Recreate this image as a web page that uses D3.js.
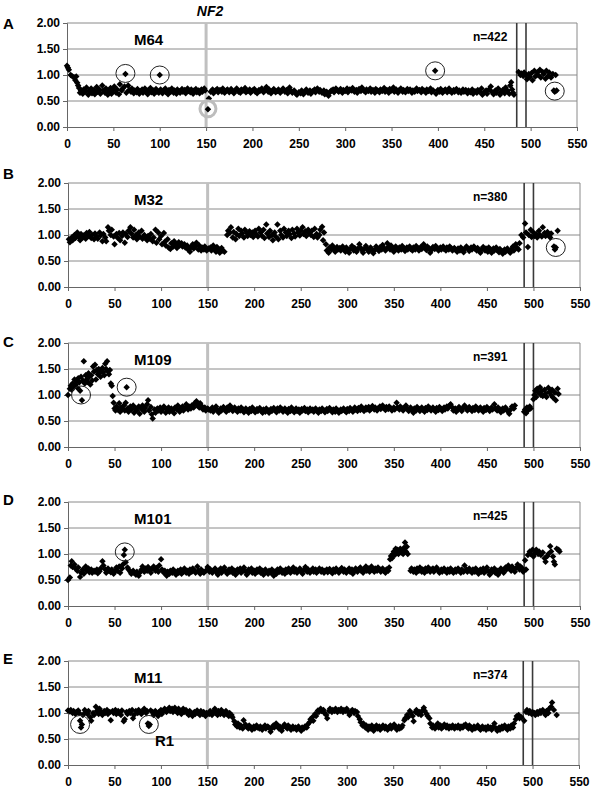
<!DOCTYPE html>
<html>
<head>
<meta charset="utf-8">
<script src="https://cdn.jsdelivr.net/npm/d3@7"></script>
<style>
  body { margin: 0; background: #fff; }
  svg { display: block; font-family: "Liberation Sans", Arial, sans-serif; }
</style>
</head>
<body>
<div class="canva"></div>
<script>
// panel ids, sample names and clone counts
const panelIds = ["A", "B", "C", "D", "E"];
const sampleNames = ["M64", "M32", "M109", "M101", "M11"];
const cloneCounts = [422, 380, 391, 425, 374];

const xTicks = [0, 50, 100, 150, 200, 250, 300, 350, 400, 450, 500, 550];
const yTicks = [0, 0.5, 1, 1.5, 2];

// NF2 position and the two dark boundary lines per panel
const nf2Pos = 150;
const gapLines = [[485, 495], [490, 500], [490, 500], [490, 500], [490, 500]];

// ratio values [position, ratio] per tumour
const m64 = [[0,1.18],[1,1.14],[2,1.10],[4,1.00],[6,0.97],[8,0.95],[9,0.90],[10,0.97],[11,0.85],[12,0.80],[13,0.75],[14,0.66],[15,0.70],[17,0.64],[18,0.72],[20,0.68],[21,0.76],[23,0.62],[24,0.70],[26,0.74],[27,0.65],[29,0.71],[30,0.63],[32,0.77],[33,0.68],[35,0.72],[36,0.64],[38,0.80],[39,0.70],[41,0.66],[42,0.74],[44,0.62],[45,0.69],[47,0.75],[48,0.64],[50,0.71],[51,0.78],[53,0.66],[54,0.72],[56,0.63],[57,0.82],[59,0.70],[60,0.74],[62,0.78],[63,1.02],[64,0.66],[66,0.80],[67,0.71],[69,0.68],[70,0.74],[72,0.65],[73,0.70],[75,0.67],[76,0.73],[78,0.64],[79,0.69],[81,0.72],[82,0.66],[84,0.74],[85,0.68],[87,0.63],[88,0.71],[90,0.75],[91,0.67],[93,0.70],[94,0.64],[96,0.73],[97,0.68],[99,0.66],[100,1.00],[101,0.72],[103,0.65],[104,0.70],[106,0.74],[107,0.67],[109,0.63],[110,0.71],[112,0.68],[113,0.74],[115,0.66],[116,0.70],[118,0.64],[119,0.72],[121,0.69],[122,0.66],[124,0.73],[125,0.68],[127,0.71],[128,0.65],[130,0.74],[131,0.69],[133,0.67],[134,0.72],[136,0.64],[137,0.70],[139,0.73],[140,0.67],[142,0.70],[143,0.65],[145,0.72],[146,0.68],[148,0.74],[149,0.70],[152,0.34],[153,0.55],[155,0.68],[157,0.72],[158,0.65],[160,0.70],[162,0.73],[163,0.67],[165,0.71],[167,0.68],[168,0.74],[170,0.66],[172,0.70],[173,0.72],[175,0.67],[177,0.73],[178,0.69],[180,0.65],[182,0.71],[183,0.74],[185,0.68],[187,0.66],[188,0.72],[190,0.70],[192,0.75],[193,0.67],[195,0.69],[197,0.72],[198,0.66],[200,0.70],[202,0.73],[203,0.68],[205,0.65],[207,0.71],[208,0.69],[210,0.74],[212,0.67],[213,0.70],[215,0.77],[217,0.68],[218,0.72],[220,0.65],[222,0.70],[223,0.73],[225,0.67],[227,0.69],[228,0.72],[230,0.66],[232,0.70],[233,0.74],[235,0.68],[237,0.71],[238,0.65],[240,0.76],[242,0.69],[243,0.66],[245,0.70],[247,0.64],[248,0.62],[250,0.67],[252,0.65],[253,0.70],[255,0.63],[257,0.68],[258,0.72],[260,0.66],[262,0.70],[263,0.64],[265,0.69],[267,0.72],[268,0.67],[270,0.74],[272,0.68],[273,0.71],[275,0.66],[277,0.70],[278,0.63],[280,0.68],[282,0.60],[283,0.66],[285,0.70],[287,0.72],[288,0.67],[290,0.74],[292,0.70],[293,0.68],[295,0.73],[297,0.66],[298,0.71],[300,0.69],[302,0.74],[303,0.67],[305,0.72],[307,0.70],[308,0.75],[310,0.68],[312,0.71],[313,0.66],[315,0.73],[317,0.69],[318,0.76],[320,0.70],[322,0.67],[323,0.72],[325,0.69],[327,0.74],[328,0.68],[330,0.71],[332,0.66],[333,0.73],[335,0.70],[337,0.67],[338,0.72],[340,0.69],[342,0.75],[343,0.68],[345,0.71],[347,0.66],[348,0.73],[350,0.70],[352,0.76],[353,0.68],[355,0.72],[357,0.66],[358,0.70],[360,0.74],[362,0.68],[363,0.71],[365,0.67],[367,0.73],[368,0.69],[370,0.72],[372,0.66],[373,0.70],[375,0.68],[377,0.74],[378,0.69],[380,0.71],[382,0.67],[383,0.73],[385,0.70],[387,0.66],[388,0.72],[390,0.69],[392,0.74],[393,0.67],[395,0.70],[397,1.08],[398,0.64],[400,0.71],[402,0.68],[403,0.73],[405,0.66],[407,0.70],[408,0.72],[410,0.67],[412,0.74],[413,0.69],[415,0.66],[417,0.71],[418,0.68],[420,0.73],[422,0.67],[423,0.70],[425,0.66],[427,0.72],[428,0.68],[430,0.71],[432,0.65],[433,0.70],[435,0.67],[437,0.72],[438,0.64],[440,0.69],[442,0.66],[443,0.71],[445,0.68],[447,0.74],[448,0.62],[450,0.67],[452,0.70],[453,0.64],[455,0.72],[457,0.78],[458,0.68],[460,0.63],[462,0.70],[463,0.66],[465,0.74],[467,0.62],[468,0.68],[470,0.71],[472,0.65],[473,0.76],[475,0.70],[477,0.64],[478,0.80],[479,0.86],[480,0.72],[481,0.66],[482,0.62],[487,1.06],[489,1.00],[490,1.03],[492,0.98],[493,1.05],[495,1.00],[496,0.92],[498,1.02],[499,0.96],[501,1.04],[502,0.90],[504,1.08],[505,0.97],[507,1.05],[508,1.00],[510,1.10],[511,0.95],[513,1.06],[514,1.02],[516,0.93],[517,1.08],[519,0.98],[520,1.05],[522,0.95],[524,1.02],[525,0.70],[526,0.68],[527,1.00],[528,0.70]];

const m32 = [[1,0.92],[2,0.86],[4,0.95],[5,0.90],[7,1.00],[8,0.94],[10,1.05],[11,0.97],[13,0.90],[14,1.02],[16,0.95],[17,0.99],[19,0.93],[20,1.04],[22,0.98],[23,1.06],[25,0.94],[26,1.00],[28,0.92],[29,1.03],[31,0.97],[32,0.93],[34,1.05],[35,0.99],[37,0.88],[38,1.02],[40,0.95],[41,0.88],[43,1.15],[44,1.08],[46,1.00],[47,1.10],[49,0.97],[50,0.82],[52,1.02],[53,0.95],[55,1.04],[56,0.90],[58,0.98],[59,1.05],[61,0.85],[62,1.02],[64,0.96],[65,1.08],[67,1.15],[68,1.03],[70,0.95],[71,1.10],[73,1.00],[74,0.92],[76,1.05],[77,0.97],[79,1.08],[80,0.93],[82,1.00],[83,0.95],[85,0.90],[86,0.98],[88,0.93],[89,1.02],[91,0.88],[92,0.95],[94,1.10],[95,0.85],[97,1.05],[98,0.92],[100,0.98],[101,0.82],[103,1.04],[104,0.87],[105,0.80],[107,0.92],[108,0.76],[110,0.73],[111,0.84],[113,0.78],[114,0.88],[116,0.82],[117,0.75],[119,0.86],[120,0.80],[122,0.84],[123,0.78],[125,0.82],[126,0.76],[128,0.80],[129,0.72],[131,0.68],[132,0.76],[134,0.82],[135,0.74],[137,0.78],[138,0.85],[140,0.72],[141,0.80],[143,0.70],[144,0.76],[146,0.72],[147,0.78],[149,0.70],[151,0.74],[153,0.76],[154,0.70],[156,0.80],[157,0.73],[159,0.68],[160,0.77],[162,0.72],[163,0.66],[165,0.75],[166,0.70],[168,0.68],[171,1.00],[172,1.08],[174,1.05],[175,1.15],[177,0.95],[178,1.06],[180,0.92],[181,1.02],[183,1.12],[184,0.98],[186,1.08],[187,1.03],[189,0.95],[190,1.10],[192,1.04],[193,0.98],[195,1.07],[196,1.00],[198,1.05],[199,0.96],[201,1.08],[202,1.02],[204,0.97],[205,1.12],[207,1.05],[208,0.99],[210,1.10],[211,0.94],[213,1.20],[214,1.03],[216,0.96],[217,1.08],[219,1.00],[220,0.90],[222,1.05],[223,0.97],[225,1.20],[226,0.92],[228,1.08],[229,1.00],[231,0.95],[232,1.12],[234,1.05],[235,0.98],[237,1.08],[238,1.02],[240,0.94],[241,1.10],[243,1.03],[244,0.97],[246,1.12],[247,1.05],[249,0.99],[250,1.08],[252,1.15],[253,1.02],[255,1.07],[256,0.98],[258,1.10],[259,1.04],[261,1.00],[262,1.08],[264,0.96],[265,1.12],[267,1.02],[268,0.95],[270,1.00],[271,1.10],[273,1.16],[274,0.90],[275,1.05],[277,0.82],[278,0.70],[280,0.66],[281,0.76],[283,0.72],[284,0.80],[286,0.74],[287,0.68],[289,0.77],[290,0.72],[292,0.75],[293,0.70],[295,0.78],[296,0.73],[298,0.68],[299,0.76],[301,0.71],[302,0.66],[304,0.74],[305,0.79],[307,0.70],[308,0.75],[310,0.68],[311,0.73],[313,0.82],[314,0.76],[316,0.70],[317,0.66],[319,0.74],[320,0.79],[322,0.72],[323,0.68],[325,0.76],[326,0.73],[328,0.65],[329,0.70],[331,0.78],[332,0.74],[334,0.69],[335,0.76],[337,0.72],[338,0.81],[340,0.74],[341,0.70],[343,0.84],[344,0.77],[346,0.72],[347,0.80],[349,0.74],[350,0.68],[352,0.78],[353,0.73],[355,0.70],[356,0.76],[358,0.72],[359,0.79],[361,0.74],[362,0.69],[364,0.76],[365,0.72],[367,0.78],[368,0.73],[370,0.70],[371,0.76],[373,0.72],[374,0.79],[376,0.74],[377,0.70],[379,0.77],[380,0.73],[382,0.82],[383,0.76],[385,0.71],[386,0.78],[388,0.74],[389,0.66],[391,0.72],[392,0.77],[394,0.73],[395,0.79],[397,0.74],[398,0.70],[400,0.76],[401,0.72],[403,0.78],[404,0.73],[406,0.70],[407,0.76],[409,0.72],[410,0.78],[412,0.74],[413,0.70],[415,0.75],[416,0.72],[418,0.68],[419,0.74],[421,0.70],[422,0.76],[424,0.72],[425,0.67],[427,0.74],[428,0.78],[430,0.73],[431,0.69],[433,0.76],[434,0.72],[436,0.78],[437,0.74],[439,0.70],[440,0.75],[442,0.71],[443,0.66],[445,0.73],[446,0.77],[448,0.70],[449,0.74],[451,0.68],[452,0.76],[454,0.72],[455,0.66],[457,0.74],[458,0.70],[460,0.76],[461,0.71],[463,0.67],[464,0.73],[466,0.69],[467,0.64],[469,0.72],[470,0.68],[472,0.74],[473,0.70],[475,0.66],[476,0.72],[478,0.78],[479,0.70],[481,0.82],[482,0.76],[484,0.72],[485,0.84],[487,1.00],[489,0.95],[491,1.22],[492,1.05],[494,0.77],[495,1.00],[497,1.10],[498,0.96],[500,1.05],[501,0.98],[503,1.02],[504,0.95],[506,1.08],[507,1.00],[509,0.97],[510,1.15],[512,1.04],[513,0.98],[515,1.06],[516,1.00],[518,0.95],[519,1.03],[522,0.78],[523,0.72],[524,0.76],[526,1.08]];

const m109 = [[0,1.00],[2,1.12],[3,1.18],[4,1.10],[5,1.22],[6,1.15],[7,1.30],[8,1.20],[9,1.27],[10,1.14],[11,1.32],[12,1.24],[13,1.08],[14,1.35],[15,0.90],[16,1.28],[17,1.65],[18,1.22],[19,1.38],[20,1.30],[21,1.25],[22,1.42],[23,1.35],[24,1.20],[25,1.38],[26,1.28],[27,1.55],[28,1.45],[29,1.58],[30,1.30],[31,1.48],[32,1.40],[33,1.50],[34,1.42],[35,1.35],[36,1.48],[37,1.52],[38,1.44],[39,1.38],[40,1.60],[41,1.50],[42,1.65],[43,1.45],[44,1.40],[45,1.48],[46,1.22],[47,1.18],[48,0.98],[49,0.85],[50,0.74],[51,0.70],[52,0.78],[53,0.72],[55,0.84],[56,0.68],[57,0.76],[58,0.72],[60,0.80],[61,0.70],[62,0.85],[63,1.15],[64,0.74],[65,0.68],[67,0.78],[68,0.72],[70,0.80],[71,0.66],[73,0.74],[74,0.70],[76,0.78],[77,0.64],[79,0.73],[80,0.80],[82,0.68],[83,0.75],[85,0.82],[86,0.90],[87,0.70],[89,0.77],[90,0.63],[91,0.55],[93,0.72],[94,0.66],[96,0.74],[97,0.70],[99,0.76],[100,0.68],[102,0.73],[103,0.78],[105,0.66],[106,0.72],[108,0.76],[109,0.68],[111,0.74],[112,0.70],[114,0.65],[115,0.76],[117,0.72],[118,0.80],[120,0.68],[121,0.74],[123,0.78],[124,0.70],[126,0.75],[127,0.82],[129,0.72],[130,0.78],[132,0.74],[133,0.80],[135,0.76],[136,0.84],[138,0.88],[139,0.80],[141,0.76],[142,0.84],[144,0.78],[145,0.72],[147,0.76],[148,0.70],[150,0.74],[151,0.72],[153,0.70],[155,0.76],[156,0.68],[158,0.74],[159,0.78],[161,0.70],[162,0.66],[164,0.74],[165,0.70],[167,0.77],[168,0.72],[170,0.68],[171,0.76],[173,0.71],[174,0.80],[176,0.74],[177,0.69],[179,0.76],[180,0.72],[182,0.68],[183,0.74],[185,0.70],[186,0.76],[188,0.72],[189,0.67],[191,0.74],[192,0.70],[194,0.66],[195,0.73],[197,0.69],[198,0.76],[200,0.71],[201,0.67],[203,0.73],[204,0.69],[206,0.75],[207,0.70],[209,0.66],[210,0.72],[212,0.68],[213,0.74],[215,0.70],[216,0.66],[218,0.73],[219,0.69],[221,0.75],[222,0.71],[224,0.67],[225,0.74],[227,0.70],[228,0.76],[230,0.72],[231,0.68],[233,0.74],[234,0.70],[236,0.66],[237,0.73],[239,0.69],[240,0.76],[242,0.71],[243,0.67],[245,0.74],[246,0.69],[248,0.72],[249,0.66],[251,0.73],[252,0.70],[254,0.75],[255,0.69],[257,0.72],[258,0.67],[260,0.74],[261,0.70],[263,0.72],[264,0.68],[266,0.74],[267,0.70],[269,0.66],[270,0.72],[272,0.69],[273,0.74],[275,0.70],[276,0.67],[278,0.73],[279,0.69],[281,0.75],[282,0.71],[284,0.67],[285,0.72],[287,0.68],[288,0.74],[290,0.70],[291,0.66],[293,0.72],[294,0.69],[296,0.74],[297,0.70],[299,0.67],[300,0.73],[302,0.69],[303,0.75],[305,0.71],[306,0.68],[308,0.76],[309,0.72],[311,0.69],[312,0.75],[314,0.71],[315,0.78],[317,0.73],[318,0.69],[320,0.76],[321,0.72],[323,0.77],[324,0.70],[326,0.74],[327,0.79],[329,0.72],[330,0.76],[332,0.70],[333,0.74],[335,0.78],[336,0.73],[338,0.80],[339,0.75],[341,0.71],[342,0.77],[344,0.73],[345,0.78],[347,0.74],[348,0.70],[350,0.76],[351,0.72],[353,0.85],[354,0.76],[356,0.72],[357,0.78],[359,0.74],[360,0.70],[362,0.76],[363,0.80],[365,0.73],[366,0.69],[368,0.76],[369,0.72],[371,0.66],[372,0.74],[374,0.70],[375,0.77],[377,0.73],[378,0.69],[380,0.76],[381,0.72],[383,0.68],[384,0.75],[386,0.71],[387,0.78],[389,0.74],[390,0.70],[392,0.76],[393,0.72],[395,0.68],[396,0.75],[398,0.71],[399,0.77],[401,0.73],[402,0.69],[404,0.76],[405,0.72],[407,0.78],[408,0.74],[410,0.80],[411,0.82],[413,0.76],[414,0.70],[416,0.74],[417,0.68],[419,0.72],[420,0.77],[422,0.73],[423,0.69],[425,0.76],[426,0.80],[428,0.74],[429,0.70],[431,0.77],[432,0.73],[434,0.69],[435,0.75],[437,0.71],[438,0.78],[440,0.74],[441,0.70],[443,0.76],[444,0.72],[446,0.68],[447,0.75],[449,0.71],[450,0.77],[452,0.73],[453,0.69],[455,0.76],[456,0.72],[458,0.82],[459,0.74],[461,0.70],[462,0.76],[464,0.72],[465,0.67],[467,0.74],[468,0.70],[470,0.76],[471,0.72],[473,0.68],[474,0.64],[476,0.73],[477,0.78],[479,0.74],[480,0.80],[490,0.68],[491,0.72],[492,0.65],[493,0.76],[494,0.70],[496,0.78],[497,0.74],[500,0.92],[501,1.00],[502,1.08],[503,0.96],[504,1.12],[505,1.05],[507,1.15],[508,1.00],[509,1.08],[510,0.98],[512,1.10],[513,1.03],[514,0.96],[516,1.14],[517,1.06],[519,1.00],[520,1.10],[521,0.95],[523,1.05],[524,0.90],[526,1.12],[527,1.02]];

const m101 = [[0,0.50],[2,0.55],[3,0.78],[4,0.86],[5,0.75],[7,0.80],[8,0.72],[10,0.68],[11,0.74],[13,0.56],[14,0.64],[16,0.70],[17,0.62],[19,0.76],[20,0.68],[22,0.72],[23,0.65],[25,0.70],[26,0.64],[28,0.68],[29,0.66],[31,0.70],[32,0.63],[34,0.67],[35,0.72],[37,0.86],[38,0.78],[40,0.70],[41,0.64],[43,0.72],[44,0.68],[46,0.65],[47,0.70],[49,0.62],[50,0.67],[52,0.74],[53,0.68],[55,0.76],[56,0.64],[58,0.72],[59,0.80],[60,0.98],[61,1.08],[62,0.84],[64,0.74],[65,0.70],[67,0.66],[68,0.62],[70,0.68],[71,0.64],[73,0.60],[74,0.66],[76,0.58],[77,0.64],[79,0.70],[80,0.76],[82,0.66],[83,0.72],[85,0.68],[86,0.75],[88,0.70],[89,0.64],[91,0.72],[92,0.76],[94,0.68],[95,0.73],[97,0.66],[98,0.78],[100,0.90],[101,0.70],[103,0.64],[104,0.68],[106,0.58],[107,0.66],[109,0.62],[110,0.68],[112,0.64],[113,0.70],[115,0.66],[116,0.60],[118,0.68],[119,0.64],[121,0.70],[122,0.62],[124,0.66],[125,0.72],[127,0.64],[128,0.68],[130,0.62],[131,0.70],[133,0.66],[134,0.72],[136,0.68],[137,0.64],[139,0.76],[140,0.68],[142,0.62],[143,0.70],[145,0.66],[146,0.64],[148,0.68],[150,0.75],[152,0.66],[153,0.70],[155,0.64],[156,0.68],[158,0.72],[159,0.66],[161,0.60],[162,0.68],[164,0.72],[165,0.64],[167,0.70],[168,0.74],[170,0.66],[171,0.62],[173,0.70],[174,0.66],[176,0.72],[177,0.64],[179,0.68],[180,0.60],[182,0.70],[183,0.66],[185,0.72],[186,0.64],[188,0.68],[189,0.74],[191,0.66],[192,0.60],[194,0.70],[195,0.66],[197,0.72],[198,0.64],[200,0.68],[201,0.62],[203,0.70],[204,0.66],[206,0.72],[207,0.64],[209,0.68],[210,0.60],[212,0.70],[213,0.66],[215,0.62],[216,0.68],[218,0.64],[219,0.70],[221,0.58],[222,0.66],[224,0.62],[225,0.70],[227,0.66],[228,0.72],[230,0.64],[231,0.68],[233,0.62],[234,0.70],[236,0.66],[237,0.72],[239,0.64],[240,0.68],[242,0.74],[243,0.66],[245,0.70],[246,0.64],[248,0.68],[249,0.72],[251,0.66],[252,0.62],[254,0.70],[255,0.75],[257,0.66],[258,0.70],[260,0.64],[261,0.68],[263,0.72],[264,0.66],[266,0.70],[267,0.64],[269,0.68],[270,0.72],[272,0.66],[273,0.70],[275,0.64],[276,0.68],[278,0.70],[279,0.65],[281,0.71],[282,0.67],[284,0.63],[285,0.70],[287,0.66],[288,0.72],[290,0.68],[291,0.64],[293,0.70],[294,0.73],[296,0.66],[297,0.70],[299,0.64],[300,0.68],[302,0.72],[303,0.66],[305,0.70],[306,0.62],[308,0.68],[309,0.72],[311,0.66],[312,0.70],[314,0.74],[315,0.68],[317,0.64],[318,0.70],[320,0.76],[321,0.68],[323,0.72],[324,0.66],[326,0.76],[327,0.70],[329,0.66],[330,0.72],[332,0.68],[333,0.74],[335,0.70],[336,0.66],[338,0.72],[339,0.68],[341,0.64],[342,0.70],[344,0.68],[345,0.74],[346,0.90],[347,0.96],[348,0.92],[349,1.00],[350,1.05],[351,0.98],[352,1.10],[353,1.02],[354,1.08],[355,1.00],[356,1.06],[357,1.10],[358,1.03],[359,1.08],[360,1.00],[361,1.12],[362,1.22],[363,1.05],[364,1.14],[365,1.00],[368,0.68],[369,0.72],[371,0.66],[372,0.70],[374,0.64],[375,0.72],[377,0.68],[378,0.74],[380,0.66],[381,0.70],[383,0.64],[384,0.72],[386,0.68],[387,0.74],[389,0.66],[390,0.70],[392,0.72],[393,0.66],[395,0.70],[396,0.74],[398,0.68],[399,0.64],[401,0.70],[402,0.66],[404,0.72],[405,0.68],[407,0.64],[408,0.70],[410,0.66],[411,0.72],[413,0.68],[414,0.64],[416,0.70],[417,0.66],[419,0.72],[420,0.68],[422,0.64],[423,0.70],[425,0.66],[426,0.78],[428,0.70],[429,0.66],[431,0.72],[432,0.68],[434,0.64],[435,0.70],[437,0.66],[438,0.72],[440,0.68],[441,0.62],[443,0.70],[444,0.66],[446,0.72],[447,0.64],[449,0.68],[450,0.74],[452,0.66],[453,0.60],[455,0.70],[456,0.66],[458,0.72],[459,0.64],[461,0.68],[462,0.60],[464,0.66],[465,0.72],[467,0.68],[468,0.64],[470,0.74],[471,0.70],[473,0.78],[474,0.72],[476,0.68],[477,0.76],[479,0.70],[480,0.66],[482,0.74],[483,0.80],[485,0.70],[486,0.76],[488,0.72],[489,0.66],[491,0.88],[492,0.70],[494,0.98],[496,1.05],[497,1.00],[499,1.08],[500,0.95],[502,1.02],[503,1.08],[505,1.00],[506,1.05],[508,0.98],[510,1.03],[512,0.92],[513,0.85],[515,0.96],[516,1.00],[518,1.15],[519,1.05],[521,0.95],[522,0.85],[523,0.80],[525,1.10],[527,1.08],[528,1.05]];

const m11 = [[0,1.05],[2,1.03],[3,1.06],[5,1.00],[6,1.04],[8,0.98],[9,1.02],[11,1.05],[12,1.00],[13,0.85],[14,0.72],[15,0.78],[16,0.96],[18,1.06],[19,1.02],[21,0.98],[22,1.04],[24,0.92],[25,0.85],[27,1.00],[28,0.96],[30,1.12],[31,1.04],[33,0.98],[34,1.08],[36,1.02],[37,0.96],[39,1.04],[40,1.00],[42,1.06],[43,0.98],[45,1.02],[46,0.86],[48,1.04],[49,1.00],[51,1.06],[52,0.98],[54,1.04],[55,1.00],[57,0.96],[58,1.05],[60,0.84],[61,0.88],[63,1.02],[64,0.98],[66,1.04],[67,1.00],[69,1.06],[70,0.90],[71,0.96],[73,1.04],[75,1.00],[76,1.06],[78,1.02],[79,0.98],[81,1.05],[82,1.08],[84,1.00],[85,1.04],[86,0.80],[87,0.75],[88,0.78],[89,1.05],[91,1.02],[92,0.96],[94,1.04],[95,1.00],[97,0.94],[98,1.02],[100,1.06],[101,0.98],[103,1.04],[104,1.08],[106,1.02],[107,1.06],[109,1.10],[110,1.04],[112,1.08],[113,1.02],[115,1.10],[116,1.05],[118,1.00],[119,1.08],[121,1.04],[122,0.98],[124,1.08],[125,1.02],[127,1.06],[128,1.00],[130,0.96],[131,1.04],[133,0.98],[134,0.94],[136,1.02],[137,0.98],[139,1.05],[140,1.00],[142,0.96],[143,1.04],[145,0.98],[146,1.02],[148,0.94],[149,1.00],[152,0.98],[153,1.04],[155,0.96],[156,1.02],[158,1.08],[159,1.00],[161,0.96],[162,1.04],[164,0.98],[165,1.06],[167,1.00],[168,0.96],[170,1.04],[171,0.98],[173,0.94],[174,1.00],[176,0.96],[177,0.92],[179,0.84],[180,0.78],[182,0.74],[183,0.80],[185,0.72],[186,0.76],[188,0.70],[189,0.86],[191,0.78],[192,0.74],[194,0.70],[195,0.76],[197,0.72],[198,0.68],[200,0.74],[201,0.70],[203,0.76],[204,0.72],[206,0.70],[207,0.74],[209,0.68],[210,0.72],[212,0.76],[213,0.70],[215,0.74],[216,0.72],[218,0.64],[219,0.70],[221,0.76],[222,0.72],[224,0.80],[225,0.76],[227,0.70],[228,0.74],[230,0.66],[231,0.72],[233,0.78],[234,0.74],[236,0.70],[237,0.76],[239,0.72],[240,0.68],[242,0.74],[243,0.70],[245,0.72],[246,0.68],[248,0.74],[249,0.70],[251,0.66],[252,0.72],[254,0.70],[255,0.74],[257,0.72],[258,0.78],[260,0.82],[261,0.88],[263,0.92],[264,0.85],[266,0.98],[267,0.94],[269,1.05],[270,1.02],[272,1.08],[273,1.04],[275,1.06],[276,1.00],[278,0.96],[279,0.90],[281,1.04],[282,1.08],[284,1.02],[285,1.06],[287,1.04],[288,1.08],[290,1.02],[291,1.06],[293,1.04],[294,1.08],[296,1.02],[297,1.06],[299,1.04],[300,1.08],[302,1.02],[303,0.96],[305,1.04],[306,1.06],[308,1.00],[309,1.04],[311,1.02],[312,0.94],[314,0.88],[315,0.82],[317,0.76],[318,0.80],[320,0.72],[321,0.76],[323,0.68],[324,0.74],[326,0.70],[327,0.76],[329,0.66],[330,0.72],[332,0.76],[333,0.70],[335,0.74],[336,0.68],[338,0.72],[339,0.76],[341,0.70],[342,0.74],[344,0.68],[345,0.72],[347,0.76],[348,0.70],[350,0.74],[351,0.78],[353,0.72],[354,0.68],[356,0.74],[357,0.70],[359,0.72],[360,0.76],[362,0.86],[363,0.90],[365,0.96],[366,0.92],[368,1.04],[369,1.00],[371,0.94],[372,0.84],[374,1.02],[375,1.06],[377,0.98],[378,1.02],[380,0.96],[381,1.04],[383,1.10],[384,1.04],[386,0.98],[387,0.94],[389,0.90],[390,0.80],[392,0.72],[393,0.76],[395,0.70],[396,0.74],[398,0.80],[399,0.72],[401,0.76],[402,0.70],[404,0.74],[405,0.78],[407,0.72],[408,0.76],[410,0.70],[411,0.74],[413,0.72],[414,0.76],[416,0.70],[417,0.74],[419,0.72],[420,0.76],[422,0.70],[423,0.74],[425,0.72],[426,0.76],[428,0.78],[429,0.74],[431,0.70],[432,0.76],[434,0.72],[435,0.68],[437,0.74],[438,0.70],[440,0.72],[441,0.76],[443,0.70],[444,0.68],[446,0.74],[447,0.70],[449,0.72],[450,0.68],[452,0.74],[453,0.70],[455,0.72],[456,0.68],[458,0.74],[459,0.80],[461,0.70],[462,0.66],[464,0.72],[465,0.68],[467,0.74],[468,0.70],[470,0.76],[471,0.72],[473,0.68],[474,0.74],[476,0.70],[477,0.76],[479,0.72],[480,0.80],[482,0.88],[483,0.94],[485,0.96],[486,0.90],[488,0.92],[491,0.85],[493,1.02],[494,1.06],[496,1.00],[497,1.04],[499,0.98],[500,1.02],[502,1.00],[503,0.96],[505,1.02],[506,0.98],[508,1.04],[509,1.00],[511,1.06],[512,1.02],[514,0.96],[515,1.04],[517,1.00],[518,1.08],[520,1.12],[521,1.20],[523,1.06],[526,0.96]];

const seriesList = [m64, m32, m109, m101, m11];

// circled clones [position, ratio] per panel
const circled = [
  [[63, 1.03], [100, 1.0], [397, 1.08], [526, 0.69]],
  [[524, 0.76]],
  [[14, 1.0], [63, 1.15]],
  [[61, 1.04]],
  [[13, 0.78], [87, 0.78]]
];
const nf2Circle = [152, 0.35];

// layout of the five stacked panels (pixels)
const panelTop = [23, 183, 343, 502, 661];
const panelLeft = [67, 68, 68, 68, 68];
const panelRight = [577, 580, 580, 580, 579];
const plotH = 104;
const letterY = [29, 179, 347, 505, 664];

const svg = d3.select(".canva").append("svg")
  .attr("width", 600)
  .attr("height", 803);

const diamond = d3.symbol().type(d3.symbolSquare).size(21);

seriesList.forEach(function (data, i) {
  const x = d3.scaleLinear().domain([0, 550]).range([panelLeft[i], panelRight[i]]);
  const y = d3.scaleLinear().domain([0, 2]).range([panelTop[i] + plotH, panelTop[i]]);
  const g = svg.append("g");

  // gridlines
  g.selectAll(".grid").data(yTicks.filter(d => d > 0)).enter().append("line")
    .attr("x1", x(0)).attr("x2", x(550))
    .attr("y1", d => y(d)).attr("y2", d => y(d))
    .attr("stroke", "#8a8a8a").attr("stroke-width", 1);
  g.append("line")
    .attr("x1", x(550)).attr("x2", x(550))
    .attr("y1", y(0)).attr("y2", y(2))
    .attr("stroke", "#8a8a8a");

  // axes
  const yAxis = d3.axisLeft(y).tickValues(yTicks).tickFormat(d3.format(".2f")).tickSize(4).tickPadding(3);
  const xAxis = d3.axisBottom(x).tickValues(xTicks).tickFormat(d3.format("d")).tickSize(4).tickPadding(8);
  const ya = g.append("g").attr("transform", `translate(${x(0)},0)`).call(yAxis);
  const xa = g.append("g").attr("transform", `translate(0,${y(0)})`).call(xAxis);
  [ya, xa].forEach(function (a) {
    a.select(".domain").attr("stroke", "#666");
    a.selectAll(".tick line").attr("stroke", "#666");
    a.selectAll("text")
      .attr("fill", "#000")
      .style("font-size", "12px")
      .style("font-weight", "bold")
      .style("font-family", "'Liberation Sans', Arial, sans-serif");
  });

  // NF2 marker line
  g.append("line")
    .attr("x1", x(nf2Pos)).attr("x2", x(nf2Pos))
    .attr("y1", y(2)).attr("y2", y(0))
    .attr("stroke", "#c0c0c0").attr("stroke-width", 3);

  // boundary lines
  g.selectAll(".gap").data(gapLines[i]).enter().append("line")
    .attr("x1", d => x(d)).attr("x2", d => x(d))
    .attr("y1", y(2)).attr("y2", y(0))
    .attr("stroke", "#3a3a3a").attr("stroke-width", 1.6);

  // points
  g.selectAll(".pt").data(data).enter().append("path")
    .attr("d", diamond)
    .attr("transform", d => `translate(${x(d[0])},${y(d[1])}) rotate(45)`)
    .attr("fill", "#000");

  // circles round single clones
  g.selectAll(".ring").data(circled[i]).enter().append("ellipse")
    .attr("cx", d => x(d[0])).attr("cy", d => y(d[1]))
    .attr("rx", 9.5).attr("ry", 9)
    .attr("fill", "none").attr("stroke", "#222").attr("stroke-width", 1);

  if (i === 0) {
    g.append("circle")
      .attr("cx", x(nf2Circle[0])).attr("cy", y(nf2Circle[1]))
      .attr("r", 8)
      .attr("fill", "none").attr("stroke", "#bdbdbd").attr("stroke-width", 3);
    g.append("text")
      .attr("x", x(nf2Pos) + 4).attr("y", 16)
      .attr("text-anchor", "middle")
      .style("font-size", "14px").style("font-weight", "bold").style("font-style", "italic")
      .text("NF2");
  }

  // labels
  g.append("text")
    .attr("x", 3).attr("y", letterY[i])
    .style("font-size", "15px").style("font-weight", "bold")
    .text(panelIds[i]);
  g.append("text")
    .attr("x", 134).attr("y", panelTop[i] + 22)
    .style("font-size", "15px").style("font-weight", "bold")
    .text(sampleNames[i]);
  g.append("text")
    .attr("x", 473).attr("y", panelTop[i] + 18)
    .style("font-size", "12px").style("font-weight", "bold")
    .text("n=" + cloneCounts[i]);

  if (i === 4) {
    g.append("text")
      .attr("x", 155).attr("y", 746)
      .style("font-size", "15px").style("font-weight", "bold")
      .text("R1");
  }
});
</script>
</body>
</html>
